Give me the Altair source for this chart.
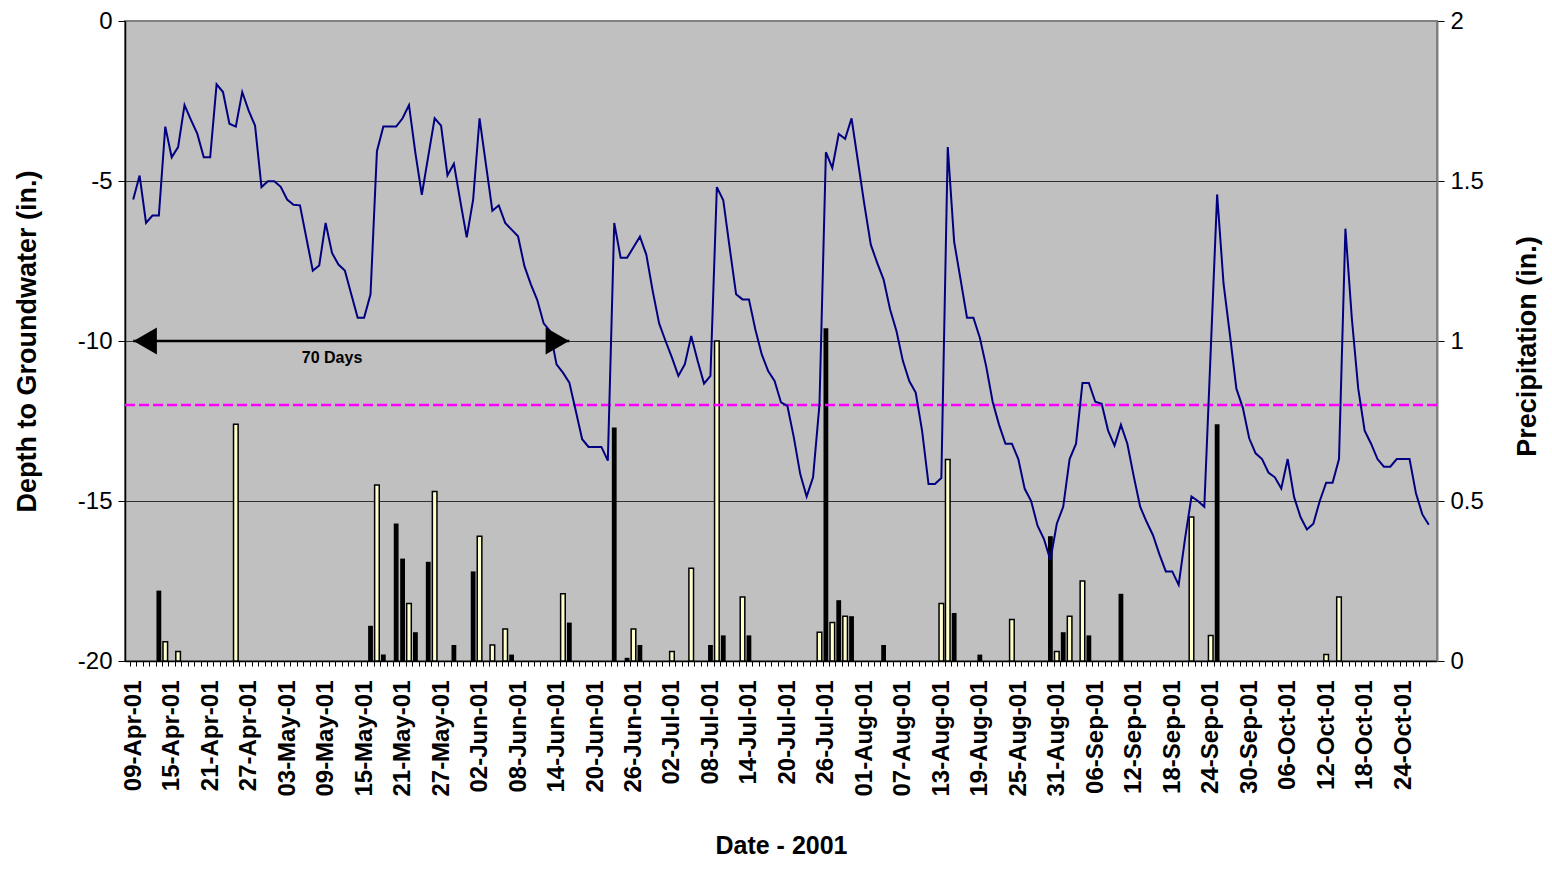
import altair as alt
import pandas as pd

# ---------------- data ----------------
start_date = "2001-04-09"

# daily depth to groundwater (in.), 09-Apr-01 .. 28-Oct-01
depth = [
    -5.58, -4.83, -6.31, -6.08, -6.08, -3.30, -4.26, -3.94, -2.63, -3.09,
    -3.53, -4.26, -4.26, -1.98, -2.22, -3.21, -3.30, -2.22, -2.80, -3.27,
    -5.19, -5.01, -5.01, -5.18, -5.58, -5.74, -5.76, -6.78, -7.80, -7.64,
    -6.31, -7.25, -7.61, -7.80, -8.54, -9.27, -9.27, -8.54, -4.07, -3.30,
    -3.30, -3.30, -3.04, -2.63, -4.13, -5.43, -4.23, -3.04, -3.27, -4.82,
    -4.46, -5.63, -6.76, -5.58, -3.04, -4.49, -5.93, -5.76, -6.31, -6.52,
    -6.73, -7.66, -8.23, -8.72, -9.45, -9.69, -10.73, -10.99, -11.30, -12.18,
    -13.07, -13.31, -13.31, -13.31, -13.74, -6.31, -7.40, -7.40, -7.07, -6.74,
    -7.30, -8.44, -9.45, -10.00, -10.52, -11.09, -10.73, -9.84, -10.62, -11.33,
    -11.09, -5.19, -5.60, -7.09, -8.54, -8.70, -8.70, -9.64, -10.42, -10.94,
    -11.25, -11.92, -12.03, -13.01, -14.16, -14.86, -14.26, -11.98, -4.10, -4.59,
    -3.53, -3.68, -3.04, -4.39, -5.74, -6.99, -7.56, -8.08, -9.01, -9.69,
    -10.62, -11.25, -11.61, -12.81, -14.47, -14.47, -14.28, -3.94, -6.90, -8.08,
    -9.27, -9.27, -9.90, -10.80, -11.90, -12.62, -13.21, -13.21, -13.69, -14.62,
    -15.00, -15.77, -16.19, -16.85, -15.71, -15.18, -13.69, -13.21, -11.31, -11.31,
    -11.90, -11.96, -12.80, -13.27, -12.62, -13.21, -14.23, -15.18, -15.65, -16.07,
    -16.67, -17.20, -17.20, -17.62, -16.17, -14.86, -15.00, -15.18, -10.30, -5.42,
    -8.21, -9.82, -11.49, -12.08, -13.04, -13.51, -13.69, -14.11, -14.26, -14.61,
    -13.69, -14.88, -15.50, -15.89, -15.71, -15.00, -14.43, -14.43, -13.69, -6.49,
    -9.29, -11.49, -12.80, -13.21, -13.69, -13.93, -13.93, -13.69, -13.69, -13.69,
    -14.76, -15.42, -15.74,
]
dates = pd.date_range(start_date, periods=len(depth), freq="D").strftime("%Y-%m-%d").tolist()

# precipitation (in.) - black series
black_dates = [
    "2001-04-13", "2001-05-16", "2001-05-18", "2001-05-20", "2001-05-21", "2001-05-23",
    "2001-05-25", "2001-05-29", "2001-06-01", "2001-06-07", "2001-06-16", "2001-06-23",
    "2001-06-25", "2001-06-27", "2001-07-08", "2001-07-10", "2001-07-14", "2001-07-26",
    "2001-07-28", "2001-07-30", "2001-08-04", "2001-08-15", "2001-08-19", "2001-08-30",
    "2001-09-01", "2001-09-05", "2001-09-10", "2001-09-25",
]
black_precip = [
    0.22, 0.11, 0.02, 0.43, 0.32, 0.09,
    0.31, 0.05, 0.28, 0.02, 0.12, 0.73,
    0.01, 0.05, 0.05, 0.08, 0.08, 1.04,
    0.19, 0.14, 0.05, 0.15, 0.02, 0.39,
    0.09, 0.08, 0.21, 0.74,
]

# precipitation (in.) - light series
cream_dates = [
    "2001-04-14", "2001-04-16", "2001-04-25", "2001-05-17", "2001-05-22", "2001-05-26",
    "2001-06-02", "2001-06-04", "2001-06-06", "2001-06-15", "2001-06-26", "2001-07-02",
    "2001-07-05", "2001-07-09", "2001-07-13", "2001-07-25", "2001-07-27", "2001-07-29",
    "2001-08-13", "2001-08-14", "2001-08-24", "2001-08-31", "2001-09-02", "2001-09-04",
    "2001-09-21", "2001-09-24", "2001-10-12", "2001-10-14",
]
cream_precip = [
    0.06, 0.03, 0.74, 0.55, 0.18, 0.53,
    0.39, 0.05, 0.10, 0.21, 0.10, 0.03,
    0.29, 1.00, 0.20, 0.09, 0.12, 0.14,
    0.18, 0.63, 0.13, 0.03, 0.14, 0.25,
    0.45, 0.08, 0.02, 0.20,
]

threshold = [-12]
arrow_start = ["2001-04-09"]
arrow_end = ["2001-06-16"]
arrow_level = [-10]
arrow_text = ["70 Days"]
arrow_text_date = ["2001-05-10"]

depth_ticks = [0, -5, -10, -15, -20]
precip_ticks = [0, 0.5, 1, 1.5, 2]

# ---------------- layout ----------------
W, H = 1312, 640
n_days = len(dates)
half_day = W / n_days / 2
FONT = "Liberation Sans"

first = pd.Timestamp(dates[0]) - pd.Timedelta(hours=12)
last = pd.Timestamp(dates[-1]) + pd.Timedelta(hours=12)


def dt(ts):
    return alt.DateTime(year=ts.year, month=ts.month, date=ts.day, hours=ts.hour, utc=True)


x_scale = alt.Scale(type="utc", domain=[dt(first), dt(last)])
tick_values = [dt(pd.Timestamp(d)) for d in dates]
start_ms = int(pd.Timestamp(dates[0], tz="UTC").timestamp() * 1000)
six_days_ms = 6 * 86400000

x_axis = alt.Axis(
    values=tick_values,
    labelExpr=(
        f"((datum.value - {start_ms}) % {six_days_ms} == 0) "
        "? utcFormat(datum.value, '%d-%b-%y') : ''"
    ),
    labelAngle=270,
    labelAlign="right",
    labelBaseline="middle",
    labelFontSize=24,
    labelFontWeight="bold",
    labelPadding=14,
    labelOverlap=False,
    labelFlush=False,
    tickSize=5,
    tickWidth=1,
    tickOffset=-half_day,
    labelOffset=half_day,
    grid=False,
    domainColor="black",
    domainWidth=1.5,
    title="Date - 2001",
    titleFontSize=25,
    titleFontWeight="bold",
    titleY=184,
    titleBaseline="middle",
)

depth_scale = alt.Scale(domain=[-20, 0], nice=False)
precip_scale = alt.Scale(domain=[0, 2], nice=False)

depth_axis = alt.Axis(
    values=depth_ticks,
    labelExpr="datum.value + ''",
    labelFontSize=24,
    labelPadding=6,
    tickSize=7,
    grid=True,
    gridColor={"condition": {"test": "datum.value === 0", "value": "#808080"}, "value": "#303030"},
    gridWidth=1,
    domainColor="black",
    domainWidth=1.5,
    title="Depth to Groundwater (in.)",
    titleFontSize=27,
    titleFontWeight="bold",
    titleAngle=270,
    titleX=-98,
    titleY=H / 2,
    titleAlign="center",
    titleBaseline="middle",
)

precip_axis = alt.Axis(
    orient="right",
    values=precip_ticks,
    labelExpr="datum.value + ''",
    labelFontSize=24,
    labelPadding=6,
    tickSize=7,
    grid=False,
    domainColor="#808080",
    domainWidth=2,
    title="Precipitation (in.)",
    titleFontSize=27,
    titleFontWeight="bold",
    titleAngle=270,
    titleX=90,
    titleY=H / 2 + 5,
    titleAlign="center",
    titleBaseline="middle",
)


def X(field):
    return alt.X(field, scale=x_scale, axis=x_axis)


def YD(field):
    return alt.Y(field, scale=depth_scale, axis=depth_axis)


def YP(field):
    return alt.Y(field, scale=precip_scale, axis=precip_axis)


# ---------------- charts ----------------
line_df = pd.DataFrame({"date": dates, "depth": depth})
black_df = pd.DataFrame({"date": black_dates, "precip": black_precip})
cream_df = pd.DataFrame({"date": cream_dates, "precip": cream_precip})
rule_df = pd.DataFrame({"level": threshold})
arrow_df = pd.DataFrame({
    "start": arrow_start, "end": arrow_end, "level": arrow_level,
    "label": arrow_text, "mid": arrow_text_date,
})

black_bars = alt.Chart(black_df).mark_bar(color="black", width=4.8).encode(
    x=X("date:T"), y=YP("precip:Q"),
)
cream_bars = alt.Chart(cream_df).mark_bar(
    fill="#FFFFCC", stroke="black", strokeWidth=1.5, width=4.6
).encode(x=X("date:T"), y=YP("precip:Q"))
precip_layer = alt.layer(black_bars, cream_bars)

thresh = alt.Chart(rule_df).mark_rule(
    color="#FF00FF", strokeDash=[10, 4], strokeWidth=2.5
).encode(y=YD("level:Q"))

line = alt.Chart(line_df).mark_line(color="#000080", strokeWidth=2).encode(
    x=X("date:T"), y=YD("depth:Q"),
)

arrow_line = alt.Chart(arrow_df).mark_rule(color="black", strokeWidth=2.5).encode(
    x=X("start:T"), x2="end:T", y=YD("level:Q"),
)
head_left = alt.Chart(arrow_df).mark_point(
    shape="triangle-left", size=729, filled=True, color="black", opacity=1, xOffset=12
).encode(x=X("start:T"), y=YD("level:Q"))
head_right = alt.Chart(arrow_df).mark_point(
    shape="triangle-right", size=729, filled=True, color="black", opacity=1, xOffset=-12
).encode(x=X("end:T"), y=YD("level:Q"))
arrow_label = alt.Chart(arrow_df).mark_text(
    fontSize=16, fontWeight="bold", dy=17, color="black", font=FONT
).encode(x=X("mid:T"), y=YD("level:Q"), text="label:N")

depth_layer = alt.layer(thresh, line, arrow_line, head_left, head_right, arrow_label)

chart = (
    alt.layer(precip_layer, depth_layer)
    .resolve_scale(y="independent")
    .properties(
        width=W,
        height=H,
        padding={"left": 117, "top": 13, "right": 107, "bottom": 198},
        autosize=alt.AutoSizeParams(type="none"),
    )
    .configure_view(fill="#C0C0C0", stroke="#808080", strokeWidth=2)
    .configure_axis(
        labelFont=FONT, titleFont=FONT, labelColor="black", titleColor="black",
        tickColor="black",
    )
)

chart.save("out.html", embed_options={"renderer": "svg", "actions": False})
